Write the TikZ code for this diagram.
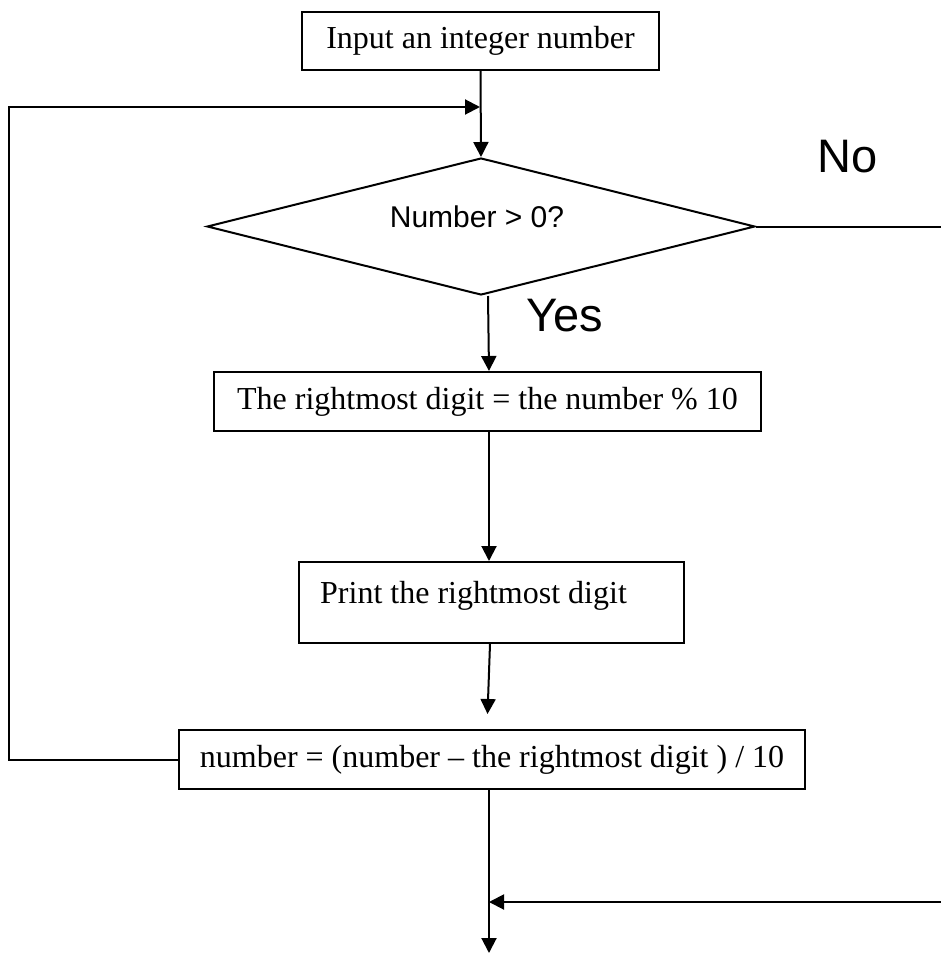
\documentclass[tikz,border=0pt]{standalone}
\usepackage{fontspec}
\setmainfont{Liberation Serif}
\newfontfamily\arialf{Liberation Sans}
\usetikzlibrary{arrows.meta,shapes.geometric}
\begin{document}
\begin{tikzpicture}[x=1pt,y=-1pt,
 box/.style={draw, line width=2pt, inner sep=0pt, font=\fontsize{32}{36}\selectfont, text height=22pt, text depth=7pt},
 arr/.style={line width=2pt, -{Triangle[length=15pt,width=15pt]}},
 ln/.style={line width=2pt},
 lbl/.style={font=\arialf\fontsize{47}{50}\selectfont, inner sep=0pt, anchor=base},
 plain/.style={font=\fontsize{32}{36}\selectfont, inner sep=0pt, anchor=base west}]
\useasboundingbox (0,0) rectangle (941,953);
% nodes
\node[box, minimum width=357pt, minimum height=58pt] (in) at (480.5,41) {Input an integer number};
\node[draw, diamond, line width=2pt, minimum width=548pt, minimum height=137pt, inner sep=0pt] (dec) at (481,226.5) {};
\node[font=\arialf\fontsize{30}{34}\selectfont, inner sep=0pt, anchor=base] (q) at (477,227) {Number > 0?};
\node[box, minimum width=547pt, minimum height=59pt] (b2) at (487.5,401.5) {The rightmost digit = the number \% 10};
\node[draw, line width=2pt, minimum width=385pt, minimum height=81pt, inner sep=0pt] (b3) at (491.5,602.5) {};
\node[plain] (b3t) at (320,603) {Print the rightmost digit};
\node[box, minimum width=626pt, minimum height=59pt] (b4) at (492,759.5) {number = (number – the rightmost digit ) / 10};
\node[lbl] (no) at (847.5,172) {No};
\node[lbl] (yes) at (565,331) {Yes};
% coordinates
\coordinate (j1) at (480,107);
\coordinate (lc) at (9,107);
\coordinate (noEnd) at (941,226.5);
\coordinate (endB) at (489,953);
\coordinate (m) at (489,902);
\coordinate (rEnd) at (941,902);
% connectors
\draw[arr] (in.south) -- (dec.north);
\draw[arr] (b4.west) -| (lc) -- (j1);
\draw[ln] (dec.east) -- (noEnd);
\draw[arr] ([xshift=7pt]dec.south) -- (b2.north -| m);
\draw[arr] (b2.south -| m) -- (b3.north -| m);
\draw[arr, shorten >=15pt] ([xshift=-1.5pt]b3.south) -- ([xshift=-5pt]b4.north);
\draw[arr] (b4.south -| m) -- (endB);
\draw[arr] (rEnd) -- (m);
\end{tikzpicture}
\end{document}
